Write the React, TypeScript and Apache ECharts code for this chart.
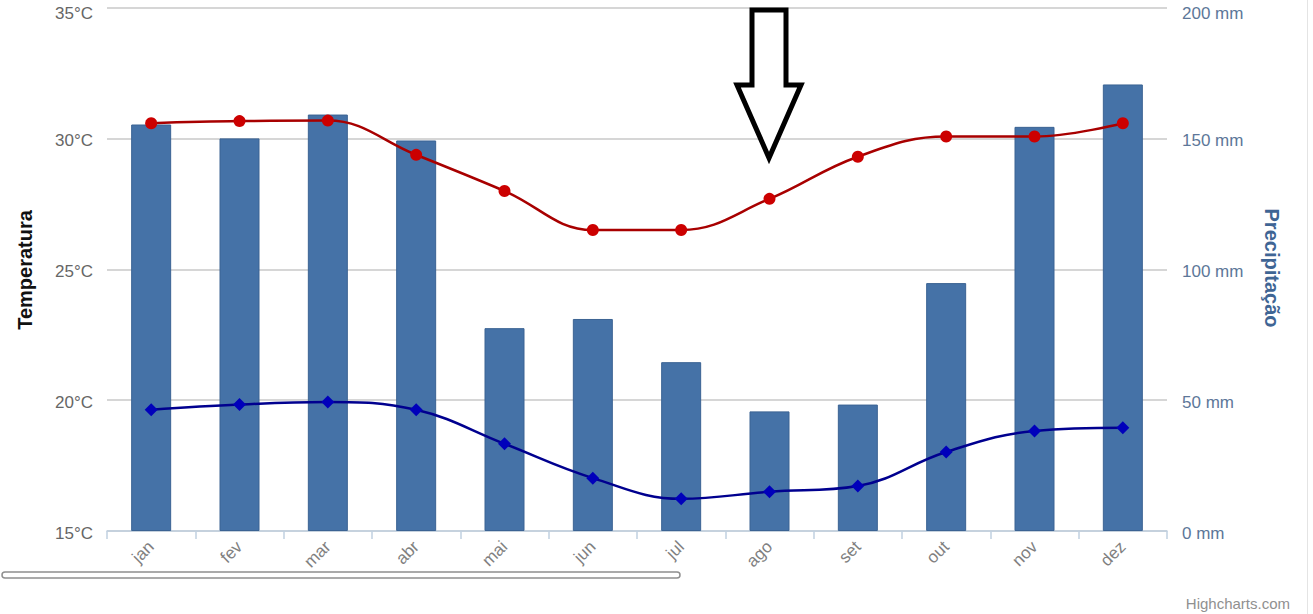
import React, { useEffect, useRef } from "react";
import * as echarts from "echarts";

const months = ["jan", "fev", "mar", "abr", "mai", "jun", "jul", "ago", "set", "out", "nov", "dez"];
const precipitation = [155.3, 150.0, 159.1, 149.2, 77.5, 81.0, 64.5, 45.7, 48.3, 94.7, 154.4, 170.6];
const tempMax = [30.58, 30.66, 30.68, 29.37, 27.99, 26.5, 26.5, 27.69, 29.3, 30.07, 30.07, 30.58];
const tempMin = [19.63, 19.83, 19.93, 19.63, 18.33, 17.02, 16.23, 16.5, 16.72, 18.02, 18.82, 18.94];

const FONT = "'Liberation Sans', Arial, sans-serif";

export default function App() {
  const ref = useRef<HTMLDivElement>(null);
  useEffect(() => {
    if (!ref.current) return;
    const chart = echarts.init(ref.current, null, { renderer: "svg" });
    const richFor = (color: string) => ({
      n: { fontSize: 17, color, fontFamily: FONT, padding: [5, 0, 0, 0] },
      t: { fontSize: 17, color, fontFamily: FONT, padding: [12, 0, 0, 0] },
    });
    chart.setOption({
      animation: false,
      backgroundColor: "#ffffff",
      textStyle: { fontFamily: FONT },
      grid: { left: 107, right: 146, top: 7.5, bottom: 83, containLabel: false },
      xAxis: {
        type: "category",
        data: months,
        axisLine: { lineStyle: { color: "#C0D0E0", width: 1.5 } },
        axisTick: { show: true, length: 8, lineStyle: { color: "#C0D0E0", width: 1.5 } },
        axisLabel: { rotate: 45, fontSize: 17, color: "#808080", margin: 13, fontFamily: FONT },
      },
      yAxis: [
        {
          type: "value",
          min: 15,
          max: 35,
          interval: 5,
          axisLine: { show: false },
          axisTick: { show: false },
          axisLabel: {
            formatter: (v: number) => (v === 35 ? `{t|${v}°C}` : `{n|${v}°C}`),
            rich: richFor("#666666"),
            margin: 14,
          },
          splitLine: { lineStyle: { color: "#C8C8C8", width: 1.5 } },
        },
        {
          type: "value",
          min: 0,
          max: 200,
          interval: 50,
          position: "right",
          axisLine: { show: false },
          axisTick: { show: false },
          axisLabel: {
            formatter: (v: number) => (v === 200 ? `{t|${v} mm}` : `{n|${v} mm}`),
            rich: richFor("#5d7799"),
            margin: 15,
          },
          splitLine: { show: false },
        },
      ],
      series: [
        {
          name: "Precipitação",
          type: "bar",
          yAxisIndex: 1,
          data: precipitation,
          barWidth: 40,
          itemStyle: { color: "#4572A7", borderColor: "#3b6393", borderWidth: 1 },
          z: 2,
        },
        {
          name: "Máxima",
          type: "line",
          yAxisIndex: 0,
          data: tempMax,
          smooth: 0.4,
          symbol: "circle",
          symbolSize: 12,
          lineStyle: { color: "#a80000", width: 2.5 },
          itemStyle: { color: "#cc0000" },
          z: 4,
        },
        {
          name: "Mínima",
          type: "line",
          yAxisIndex: 0,
          data: tempMin,
          smooth: 0.4,
          symbol: "diamond",
          symbolSize: 13,
          lineStyle: { color: "#00008f", width: 2.5 },
          itemStyle: { color: "#0000bb" },
          z: 4,
        },
      ],
      graphic: [
        {
          type: "text",
          x: 25,
          y: 270,
          rotation: Math.PI / 2,
          style: {
            text: "Temperatura",
            fontSize: 20,
            fontWeight: "bold",
            fontFamily: FONT,
            fill: "#111111",
            textAlign: "center",
            textVerticalAlign: "middle",
          },
        },
        {
          type: "text",
          x: 1272,
          y: 268,
          rotation: -Math.PI / 2,
          style: {
            text: "Precipitação",
            fontSize: 20,
            fontWeight: "bold",
            fontFamily: FONT,
            fill: "#3f6594",
            textAlign: "center",
            textVerticalAlign: "middle",
          },
        },
        {
          type: "polygon",
          shape: {
            points: [
              [752, 10],
              [786, 10],
              [786, 85],
              [801, 85],
              [769, 158],
              [737, 85],
              [752, 85],
            ],
          },
          style: { fill: "#ffffff", stroke: "#000000", lineWidth: 5, lineJoin: "miter" },
          z: 10,
        },
        {
          type: "rect",
          shape: { x: 2, y: 572, width: 678, height: 6, r: 3 },
          style: { fill: "none", stroke: "#8f8f8f", lineWidth: 1.5 },
        },
        {
          type: "line",
          shape: { x1: 1307.5, y1: 0, x2: 1307.5, y2: 614 },
          style: { stroke: "#e4e4e4", lineWidth: 1 },
        },
        {
          type: "text",
          x: 1290,
          y: 596,
          style: {
            text: "Highcharts.com",
            fontSize: 15,
            fontFamily: FONT,
            fill: "#909090",
            textAlign: "right",
            textVerticalAlign: "top",
          },
        },
      ],
    });
    return () => chart.dispose();
  }, []);
  return <div ref={ref} style={{ position: "absolute", left: 0, top: 0, width: 1313, height: 614 }} />;
}
